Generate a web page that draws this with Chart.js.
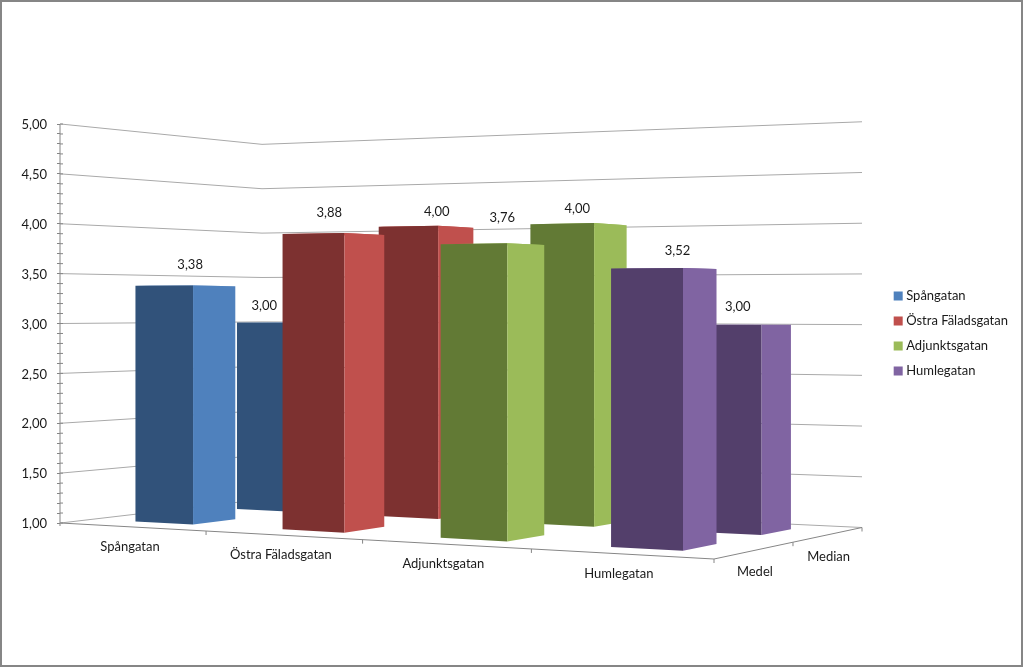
<!DOCTYPE html>
<html>
<head>
<meta charset="utf-8">
<title>Medel och median</title>
<script src="https://cdn.jsdelivr.net/npm/chart.js@4/dist/chart.umd.min.js"></script>
<style>
  html, body { margin: 0; padding: 0; background: #fff; }
  canvas { display: block; outline: 2px solid #868686; outline-offset: -2px; }
</style>
</head>
<body>
<canvas id="myChart" width="1023" height="667"></canvas>
<script>
const categories = ['Spångatan', 'Östra Fäladsgatan', 'Adjunktsgatan', 'Humlegatan'];
const depthLabels = ['Medel', 'Median'];
const medel = [3.38, 3.88, 3.76, 3.52];
const median = [3.00, 4.00, 4.00, 3.00];
const sideColors = ['#4F81BD', '#C0504D', '#9BBB59', '#8064A2'];
const faceColors = ['#31527A', '#7D3130', '#627A35', '#533F6B'];

const FONT = '13px Lato';
const GRID = '#A9A9A9';
const AXIS = '#868686';

// floor of the 3d box on the screen
const floorFL = [60.5, 523], floorFR = [714, 559], floorBR = [862, 527.5], floorBL = [262, 499.4];
const barHalfU = 0.05, barHalfV = 0.1025;
// value labels do not sit on a clean rule in the original, [dx, dy] per category and row
const labelNudge = [
  [[4.5, 2], [-19.5, 6]],
  [[-4.5, 1], [10.5, 7]],
  [[9.5, -4], [-1.5, 7]],
  [[13.5, 5], [-4.5, 5]]
];

// unit square -> floor quad
const sx = floorFL[0] - floorFR[0] + floorBR[0] - floorBL[0];
const sy = floorFL[1] - floorFR[1] + floorBR[1] - floorBL[1];
const dx1 = floorFR[0] - floorBR[0], dx2 = floorBL[0] - floorBR[0];
const dy1 = floorFR[1] - floorBR[1], dy2 = floorBL[1] - floorBR[1];
const den = dx1 * dy2 - dx2 * dy1;
const gg = (sx * dy2 - dx2 * sy) / den;
const hh = (dx1 * sy - sx * dy1) / den;

function project(chart, u, v, value) {
  const yAxis = chart.scales.y;
  const w = 1 + gg * u + hh * v;
  const x = (floorFR[0] - floorFL[0] + gg * floorFR[0]) * u + (floorBL[0] - floorFL[0] + hh * floorBL[0]) * v + floorFL[0];
  const y = (floorFR[1] - floorFL[1] + gg * floorFR[1]) * u + (floorBL[1] - floorFL[1] + hh * floorBL[1]) * v + floorFL[1];
  const lift = yAxis.getPixelForValue(yAxis.min) - yAxis.getPixelForValue(value);
  return [x / w, (y - lift) / w];
}

function poly(ctx, pts, color) {
  ctx.fillStyle = color;
  ctx.beginPath();
  pts.forEach((p, n) => n ? ctx.lineTo(p[0], p[1]) : ctx.moveTo(p[0], p[1]));
  ctx.closePath();
  ctx.fill();
}

function line(ctx, pts, color) {
  ctx.strokeStyle = color;
  ctx.lineWidth = 1;
  ctx.beginPath();
  pts.forEach((p, n) => n ? ctx.lineTo(p[0], p[1]) : ctx.moveTo(p[0], p[1]));
  ctx.stroke();
}

function drawBar(chart, cat, row, value) {
  const ctx = chart.ctx;
  const base = chart.scales.y.min;
  const cu = (cat + 0.5) / categories.length, cv = (row + 0.5) / depthLabels.length;
  const u0 = cu - barHalfU, u1 = cu + barHalfU, v0 = cv - barHalfV, v1 = cv + barHalfV;
  const p = (u, v, val) => project(chart, u, v, val);
  poly(ctx, [p(u0, v0, value), p(u1, v0, value), p(u1, v1, value), p(u0, v1, value)], sideColors[cat]);
  poly(ctx, [p(u0, v0, base), p(u1, v0, base), p(u1, v0, value), p(u0, v0, value)], faceColors[cat]);
  poly(ctx, [p(u1, v0, base), p(u1, v1, base), p(u1, v1, value), p(u1, v0, value)], sideColors[cat]);
}

const box3d = {
  id: 'box3d',
  beforeDatasetsDraw(chart) {
    const ctx = chart.ctx;
    const yAxis = chart.scales.y;
    const base = yAxis.min;
    ctx.save();

    // walls
    yAxis.ticks.forEach(t => {
      if (Math.round(t.value * 100) % 50 === 0) {
        line(ctx, [project(chart, 0, 0, t.value), project(chart, 0, 1, t.value), project(chart, 1, 1, t.value)], GRID);
      }
      const py = yAxis.getPixelForValue(t.value);
      line(ctx, [[yAxis.right, py], [yAxis.right + 3, py]], AXIS);
    });
    line(ctx, [[yAxis.right, yAxis.top], [yAxis.right, yAxis.bottom + 3]], AXIS);

    // floor edges and their ticks
    line(ctx, [project(chart, 0, 0, base), project(chart, 1, 0, base), project(chart, 1, 1, base)], AXIS);
    for (let n = 1; n <= categories.length; n++) {
      const q = project(chart, n / categories.length, 0, base);
      line(ctx, [q, [q[0], q[1] + 4]], AXIS);
    }
    for (let n = 1; n <= depthLabels.length; n++) {
      const q = project(chart, 1, n / depthLabels.length, base);
      line(ctx, [q, [q[0], q[1] + 4]], AXIS);
    }

    // back row first
    for (let row = depthLabels.length - 1; row >= 0; row--) {
      chart.data.datasets.forEach((ds, cat) => drawBar(chart, cat, row, ds.data[row]));
    }

    // text
    ctx.font = FONT;
    ctx.fillStyle = '#1a1a1a';
    ctx.textAlign = 'center';
    ctx.textBaseline = 'middle';
    categories.forEach((name, n) => {
      const q = project(chart, (n + 0.5) / categories.length, 0, base);
      ctx.fillText(name, q[0] - 2, q[1] + 20);
    });
    depthLabels.forEach((name, n) => {
      const q = project(chart, 1, (n + 0.5) / depthLabels.length, base);
      ctx.fillText(name, q[0], q[1] + 22);
    });
    chart.data.datasets.forEach((ds, cat) => {
      ds.data.forEach((val, row) => {
        const q = project(chart, (cat + 0.5) / categories.length, (row + 0.5) / depthLabels.length, val);
        const nudge = labelNudge[cat][row];
        ctx.fillText(val.toFixed(2).replace('.', ','), q[0] + nudge[0], q[1] - 23 + nudge[1]);
      });
    });
    ctx.restore();
    return false; // bars are done, skip the flat ones
  }
};

const hiddenAxis = {
  display: true,
  ticks: { display: false },
  grid: { display: false },
  border: { display: false }
};

new Chart(document.getElementById('myChart').getContext('2d'), {
  type: 'bar',
  data: {
    labels: depthLabels,
    datasets: categories.map((name, n) => ({
      label: name,
      data: [medel[n], median[n]],
      backgroundColor: sideColors[n],
      borderColor: sideColors[n]
    }))
  },
  options: {
    responsive: false,
    animation: false,
    devicePixelRatio: 1,
    layout: { padding: { right: 5 } },
    scales: {
      x: Object.assign({}, hiddenAxis, { afterFit: s => { s.height = 144; } }),
      top: Object.assign({}, hiddenAxis, { type: 'linear', position: 'top', afterFit: s => { s.height = 124; } }),
      y: {
        min: 1,
        max: 5,
        afterFit: s => { s.width = 60; },
        ticks: {
          stepSize: 0.1,
          autoSkip: false,
          padding: 10,
          labelOffset: 1,
          color: '#1a1a1a',
          font: { family: 'Lato', size: 13 },
          callback: v => Math.round(v * 100) % 50 === 0 ? v.toFixed(2).replace('.', ',') : ''
        },
        grid: { drawOnChartArea: false, tickLength: 3, color: AXIS },
        border: { display: false }
      }
    },
    plugins: {
      tooltip: { enabled: false },
      legend: {
        position: 'right',
        labels: {
          usePointStyle: true,
          pointStyle: 'rect',
          boxWidth: 3,
          boxHeight: 9,
          padding: 12,
          color: '#1a1a1a',
          font: { family: 'Lato', size: 13 }
        }
      }
    }
  },
  plugins: [box3d]
});
</script>
</body>
</html>
